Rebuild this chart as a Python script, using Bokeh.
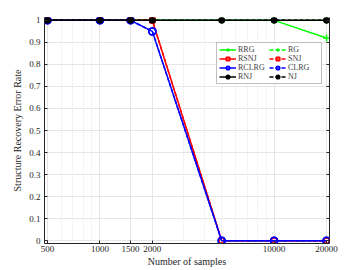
from bokeh.plotting import figure
from bokeh.models import (Range1d, FixedTicker, LinearAxis, Legend, LegendItem)
from bokeh.embed import file_html
from bokeh.resources import INLINE

# ---- data ----
samples = [500, 1000, 1500, 2000, 5000, 10000, 20000]
rrg   = [1, 1, 1, 1, 1, 1, 0.92]
rg    = [1, 1, 1, 1, 1, 1, 1]
rsnj  = [1, 1, 1, 1, 0, 0, 0]
snj   = [1, 1, 1, 1, 0, 0, 0]
rclrg = [1, 1, 1, 0.95, 0, 0, 0]
clrg  = [1, 1, 1, 0.95, 0, 0, 0]
rnj   = [1, 1, 1, 1, 1, 1, 1]
nj    = [1, 1, 1, 1, 1, 1, 1]

x_ticks = [500, 1000, 1500, 2000, 10000, 20000]
x_tick_labels = ["500", "1000", "1500", "2000", "10000", "20000"]
x_minor = [600, 700, 800, 900, 3000, 4000, 5000, 6000, 7000, 8000, 9000]
y_ticks = [0, 0.1, 0.2, 0.3, 0.4, 0.5, 0.6, 0.7, 0.8, 0.9, 1]
y_tick_labels = ["0", "0.1", "0.2", "0.3", "0.4", "0.5", "0.6", "0.7", "0.8", "0.9", "1"]

FONT = "Liberation Serif"
AX = "#262626"

p = figure(width=360, height=270, x_axis_type="log",
           x_range=Range1d(500 / 1.04, 20000 * 1.04),
           y_range=Range1d(-0.013, 1.013),
           output_backend="svg", toolbar_location=None,
           min_border_left=44, min_border_right=31, min_border_top=17, min_border_bottom=27)
p.outline_line_color = None
p.background_fill_color = "white"

# axes styling
for ax in (p.xaxis[0], p.yaxis[0]):
    ax.axis_line_color = AX
    ax.major_tick_line_color = AX
    ax.minor_tick_line_color = AX
    ax.major_tick_in = 3
    ax.major_tick_out = 0
    ax.minor_tick_in = 0
    ax.minor_tick_out = 0
    ax.major_label_text_font = FONT
    ax.major_label_text_font_size = "9px"
    ax.major_label_text_color = AX
    ax.axis_label_text_font = FONT
    ax.axis_label_text_font_size = "10px"
    ax.axis_label_text_font_style = "normal"
    ax.axis_label_text_color = AX

p.xaxis.ticker = FixedTicker(ticks=x_ticks, minor_ticks=x_minor)
p.xaxis.major_label_overrides = dict(zip(x_ticks, x_tick_labels))
p.xaxis.axis_label = "Number of samples"
p.xaxis.major_label_standoff = 2
p.xaxis.axis_label_standoff = 1

p.yaxis.ticker = FixedTicker(ticks=y_ticks)
p.yaxis.major_label_overrides = dict(zip(y_ticks, y_tick_labels))
p.yaxis.axis_label = "Structure Recovery Error Rate"
p.yaxis.major_label_standoff = 4
p.yaxis.axis_label_standoff = 3

# right axis (ticks only)
ra = LinearAxis(ticker=FixedTicker(ticks=y_ticks), major_label_text_color=None,
                axis_line_color=AX, major_tick_line_color=AX, major_tick_in=3, major_tick_out=0,
                minor_tick_line_color=None, major_label_text_font_size="0px")
p.add_layout(ra, "right")

# grid
p.xgrid.grid_line_color = "#e6e6e6"
p.ygrid.grid_line_color = "#e6e6e6"
p.xgrid.minor_grid_line_color = "#dcdcdc"
p.xgrid.minor_grid_line_dash = "1 2"

rend = {}
def series(ys, color, marker, dash, label, size, fill):
    ln = p.line(samples, ys, line_color=color, line_width=1.5, line_dash=dash)
    sc = p.scatter(samples, ys, marker=marker, size=size, line_color=color,
                   line_width=1.5, fill_color=fill)
    rend[label] = [ln, sc]

series(rrg, "#00ff00", "cross", "solid", "RRG", 7, None)
series(rg, "#00ff00", "cross", "4 2", "RG", 7, None)
series(rsnj, "#ff0000", "square", "solid", "RSNJ", 5, None)
series(snj, "#ff0000", "square", "4 2", "SNJ", 5, None)
series(rclrg, "#0000ff", "circle", "solid", "RCLRG", 7, None)
series(clrg, "#0000ff", "circle", "4 2", "CLRG", 7, None)
series(rnj, "#000000", "circle", "solid", "RNJ", 5, "#000000")
series(nj, "#000000", "circle", "4 2", "NJ", 5, "#000000")

legend_order = ["RRG", "RSNJ", "RCLRG", "RNJ", "RG", "SNJ", "CLRG", "NJ"]
items = [LegendItem(label=k, renderers=rend[k]) for k in legend_order]

legend = Legend(items=items, ncols=2, location=(172, 159),
                label_text_font=FONT, label_text_font_size="8px",
                label_height=9, glyph_height=9, glyph_width=17, label_width=31,
                label_standoff=2, spacing=0, padding=2, margin=0,
                border_line_color="#808080", background_fill_color="white",
                background_fill_alpha=1)
p.add_layout(legend, "center")

open("out.html", "w").write(file_html(p, INLINE))
